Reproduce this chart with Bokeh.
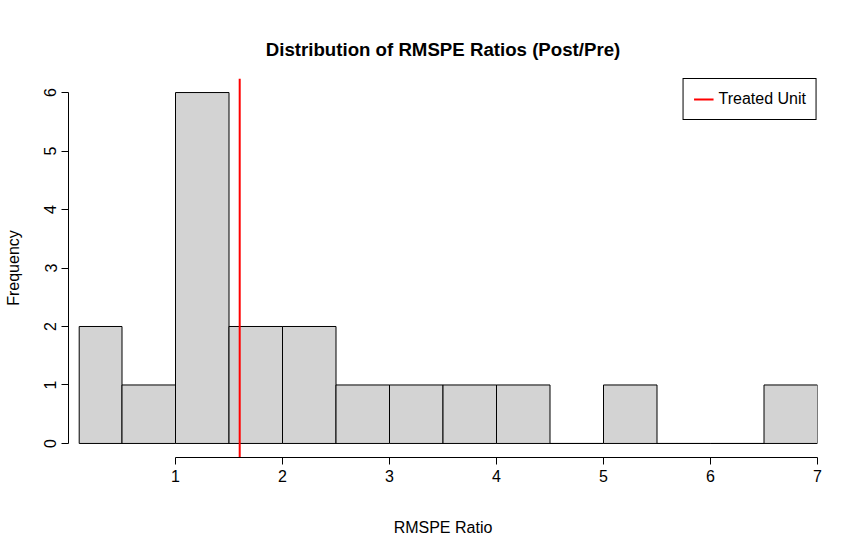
from bokeh.plotting import figure
from bokeh.models import Range1d, FixedTicker
from bokeh.embed import file_html
from bokeh.resources import INLINE

# histogram breaks and counts
lefts = [0.1, 0.5, 1.0, 1.5, 2.0, 2.5, 3.0, 3.5, 4.0, 4.5, 5.0, 5.5, 6.0, 6.5]
rights = [0.5, 1.0, 1.5, 2.0, 2.5, 3.0, 3.5, 4.0, 4.5, 5.0, 5.5, 6.0, 6.5, 7.0]
counts = [2, 1, 6, 2, 2, 1, 1, 1, 1, 0, 1, 0, 0, 1]
treated = 1.6

FONT = "Liberation Sans"

p = figure(width=848, height=541, output_backend="svg", toolbar_location=None,
           x_range=Range1d(0, 7), y_range=Range1d(-0.24, 6.24),
           min_border_left=68, min_border_right=31, min_border_top=78, min_border_bottom=84,
           title="Distribution of RMSPE Ratios (Post/Pre)")
p.outline_line_color = None
p.grid.visible = False
p.background_fill_color = "white"

p.title.align = "center"
p.title.text_font = FONT
p.title.text_font_size = "14pt"
p.title.text_font_style = "bold"
p.title.text_color = "black"
p.title.offset = 0
p.title.standoff = 38

p.quad(left=lefts, right=rights, bottom=0, top=counts,
       fill_color="#D3D3D3", line_color="black", line_width=1)

p.line(x=[treated, treated], y=[-0.24, 6.24], line_color="red", line_width=2,
       legend_label="Treated Unit")

p.xaxis.ticker = FixedTicker(ticks=[1, 2, 3, 4, 5, 6, 7])
p.xaxis.bounds = (1, 7)
p.yaxis.ticker = FixedTicker(ticks=[0, 1, 2, 3, 4, 5, 6])
p.yaxis.bounds = (0, 6)
p.yaxis.major_label_orientation = "vertical"
p.xaxis.axis_label = "RMSPE Ratio"
p.yaxis.axis_label = "Frequency"
for ax in (p.xaxis, p.yaxis):
    ax.minor_tick_line_color = None
    ax.major_tick_in = 0
    ax.major_tick_out = 7
    ax.axis_line_color = "black"
    ax.major_tick_line_color = "black"
    ax.major_label_text_font = FONT
    ax.major_label_text_font_size = "12pt"
    ax.major_label_text_color = "black"
    ax.axis_label_text_font = FONT
    ax.axis_label_text_font_size = "12pt"
    ax.axis_label_text_font_style = "normal"
    ax.axis_label_text_color = "black"
p.xaxis.axis_label_standoff = 34
p.yaxis.axis_label_standoff = 20

p.legend.location = "top_right"
p.legend.margin = 0
p.legend.border_line_color = "black"
p.legend.border_line_alpha = 1
p.legend.label_text_font = FONT
p.legend.label_text_font_size = "12pt"
p.legend.label_text_color = "black"
p.legend.padding = 10
p.legend.spacing = 0

open("out.html", "w").write(file_html(p, INLINE))
